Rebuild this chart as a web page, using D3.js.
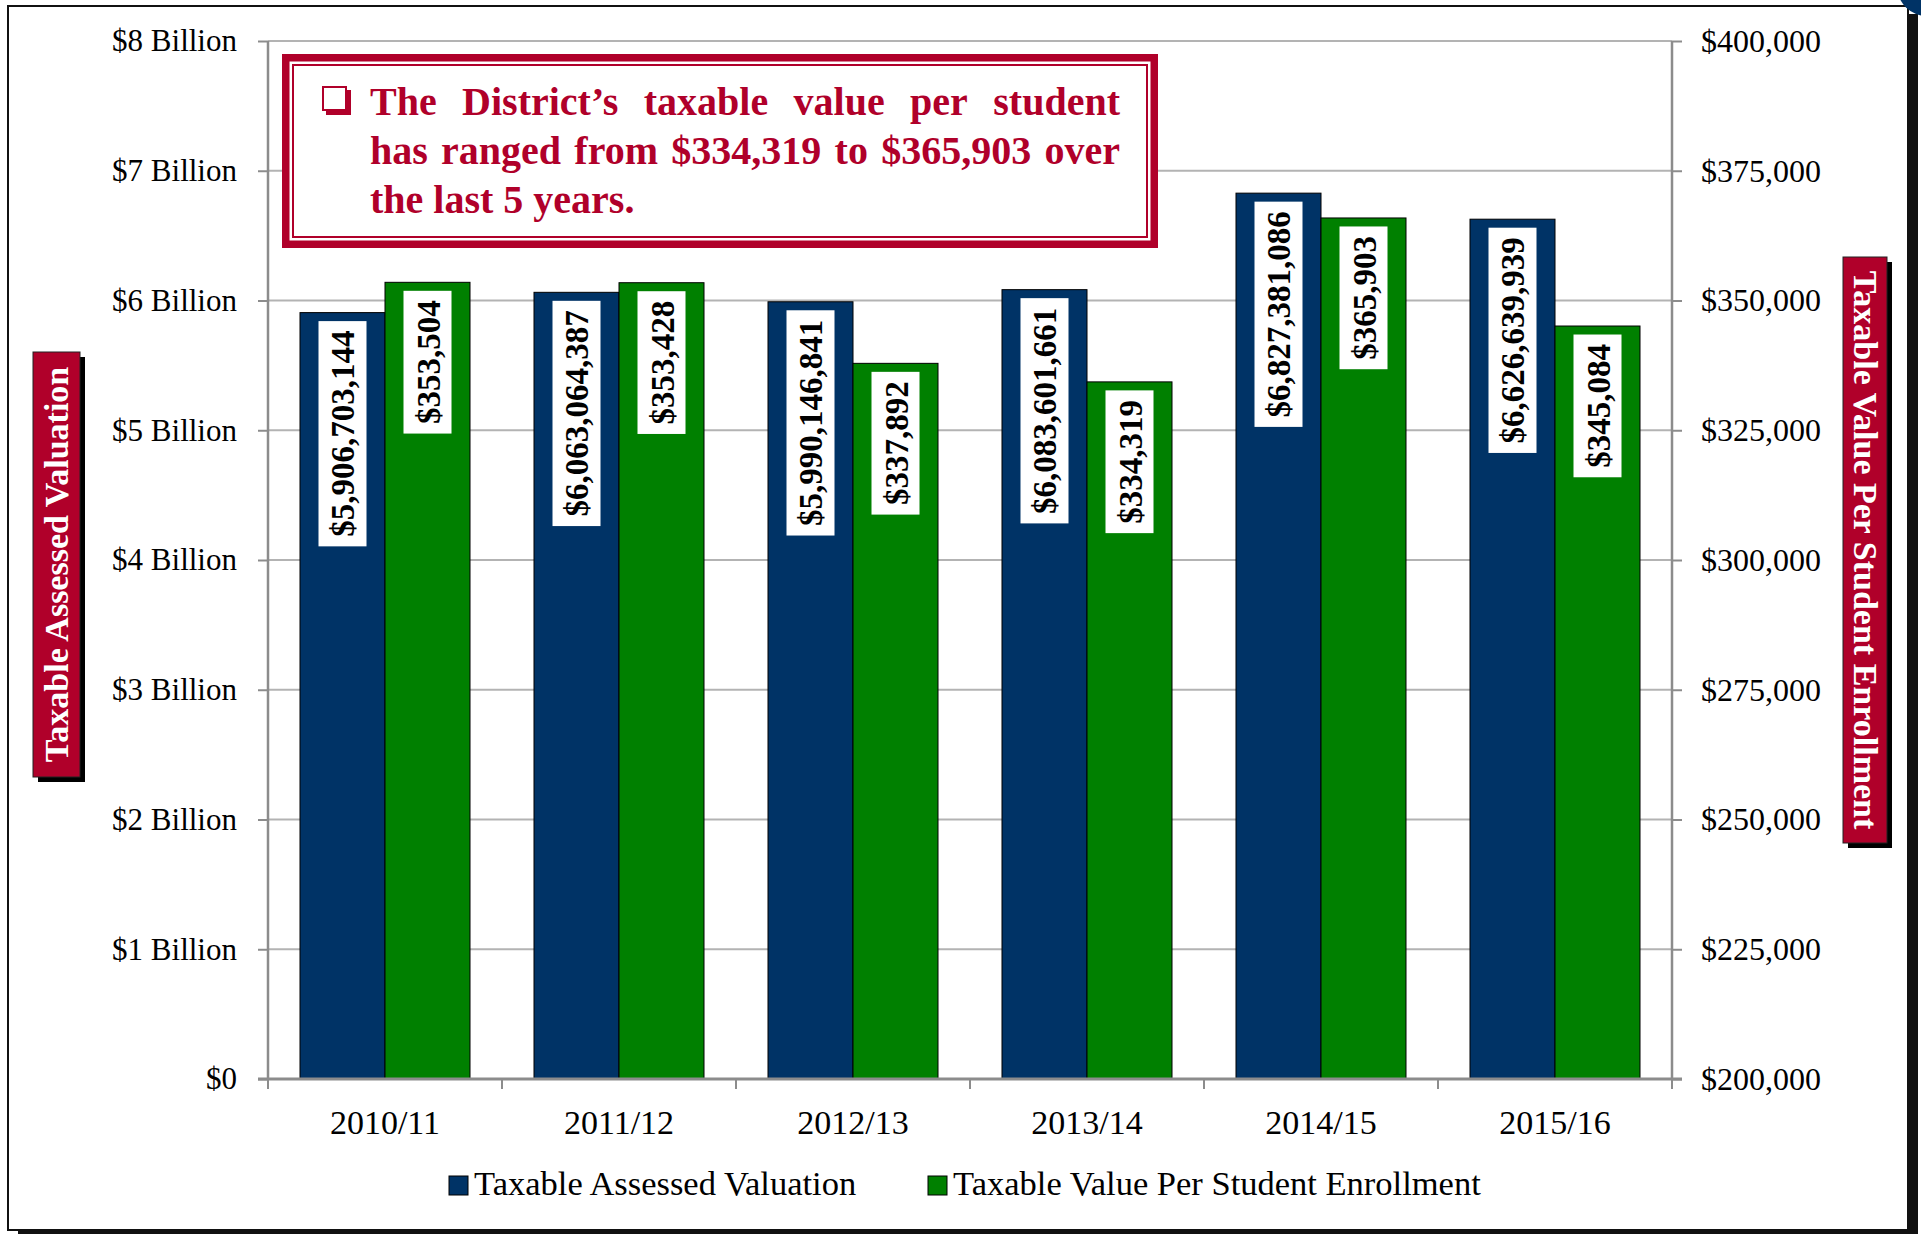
<!DOCTYPE html>
<html>
<head>
<meta charset="utf-8">
<script src="https://cdn.jsdelivr.net/npm/d3@7"></script>
<style>
  body { margin: 0; background: #fff; }
  svg { display: block; }
</style>
</head>
<body>
<script>
// DATA
const years = ['2010/11', '2011/12', '2012/13', '2013/14', '2014/15', '2015/16'];
const valuation = [5906703144, 6063064387, 5990146841, 6083601661, 6827381086, 6626639939];
const perStudent = [353504, 353428, 337892, 334319, 365903, 345084];
const seriesNames = ['Taxable Assessed Valuation', 'Taxable Value Per Student Enrollment'];
const leftTicks = [0, 1e9, 2e9, 3e9, 4e9, 5e9, 6e9, 7e9, 8e9];
const leftTickLabels = ['$0', '$1 Billion', '$2 Billion', '$3 Billion', '$4 Billion', '$5 Billion', '$6 Billion', '$7 Billion', '$8 Billion'];
const rightTicks = [200000, 225000, 250000, 275000, 300000, 325000, 350000, 375000, 400000];
const rightTickLabels = ['$200,000', '$225,000', '$250,000', '$275,000', '$300,000', '$325,000', '$350,000', '$375,000', '$400,000'];
const leftTitle = 'Taxable Assessed Valuation';
const rightTitle = 'Taxable Value Per Student Enrollment';
const noteLines = [
  'The District\u2019s taxable value per student',
  'has ranged from $334,319 to $365,903 over',
  'the last 5 years.'
];

// CONFIGURATION
const width = 1921;
const height = 1234;
const plot = { left: 268, right: 1672, top: 41, bottom: 1079 };
const colors = ['#003366', '#008000'];
const red = '#b0002a';
const serif = '"Liberation Serif", "Times New Roman", serif';

const x0 = d3.scaleBand()
  .domain(years)
  .range([plot.left, plot.right])
  .paddingInner(0.2735)
  .paddingOuter(0.2735 / 2);
const x1 = d3.scaleBand()
  .domain([0, 1])
  .range([0, x0.bandwidth()]);
const yLeft = d3.scaleLinear().domain([0, 8e9]).range([plot.bottom, plot.top]);
const yRight = d3.scaleLinear().domain([200000, 400000]).range([plot.bottom, plot.top]);

// SVG
const svg = d3.select('body')
  .append('svg')
  .attr('width', width)
  .attr('height', height)
  .style('font-family', serif);

// FRAME
svg.append('rect')
  .attr('x', 18).attr('y', 14)
  .attr('width', 1900).attr('height', 1220)
  .attr('fill', '#111');
svg.append('rect')
  .attr('x', 8).attr('y', 6)
  .attr('width', 1900).attr('height', 1224)
  .attr('fill', '#fff')
  .attr('stroke', '#111')
  .attr('stroke-width', 2);
svg.append('path')
  .attr('d', d3.arc()({ innerRadius: 0, outerRadius: 30, startAngle: Math.PI, endAngle: 1.5 * Math.PI }))
  .attr('transform', 'translate(1927,-14)')
  .attr('fill', '#003366');

// GRIDLINES
svg.append('g')
  .selectAll('line')
  .data(leftTicks.slice(1))
  .enter()
  .append('line')
  .attr('x1', plot.left).attr('x2', plot.right)
  .attr('y1', d => yLeft(d)).attr('y2', d => yLeft(d))
  .attr('stroke', '#b3b3b3')
  .attr('stroke-width', 2);

// AXES
const leftAxis = svg.append('g')
  .attr('transform', `translate(${plot.left},0)`)
  .call(d3.axisLeft(yLeft)
    .tickValues(leftTicks)
    .tickSize(10)
    .tickPadding(21)
    .tickFormat((d, i) => leftTickLabels[i]));
const rightAxis = svg.append('g')
  .attr('transform', `translate(${plot.right},0)`)
  .call(d3.axisRight(yRight)
    .tickValues(rightTicks)
    .tickSize(10)
    .tickPadding(19)
    .tickFormat((d, i) => rightTickLabels[i]));
[leftAxis, rightAxis].forEach(function(axis, i) {
  axis.select('.domain')
    .attr('stroke', '#8c8c8c')
    .attr('stroke-width', 2.5)
    .attr('d', `M0,${plot.top}V${plot.bottom}`);
  axis.selectAll('.tick line').attr('stroke', '#8c8c8c').attr('stroke-width', 2);
  axis.selectAll('.tick text')
    .attr('fill', '#000')
    .style('font-family', serif)
    .style('font-size', i === 0 ? '31px' : '32px');
});

// BARS
const groups = svg.append('g')
  .selectAll('g')
  .data(years)
  .enter()
  .append('g')
  .attr('transform', d => `translate(${x0(d)},0)`);

const barData = (d, i) => [
  { s: 0, y: yLeft(valuation[i]), label: d3.format('$,')(valuation[i]) },
  { s: 1, y: yRight(perStudent[i]), label: d3.format('$,')(perStudent[i]) }
];

groups.selectAll('rect.bar')
  .data(barData)
  .enter()
  .append('rect')
  .attr('class', 'bar')
  .attr('x', d => x1(d.s))
  .attr('y', d => d.y)
  .attr('width', x1.bandwidth())
  .attr('height', d => plot.bottom - d.y)
  .attr('fill', d => colors[d.s])
  .attr('stroke', '#000')
  .attr('stroke-width', 1);

// DATA LABELS
groups.selectAll('g.label')
  .data(barData)
  .enter()
  .append('g')
  .attr('class', 'label')
  .each(function(d) {
    const g = d3.select(this);
    const cx = x1(d.s) + x1.bandwidth() / 2;
    const text = g.append('text')
      .text(d.label)
      .attr('text-anchor', 'middle')
      .attr('dominant-baseline', 'central')
      .style('font-weight', 'bold')
      .style('font-size', '33px')
      .attr('fill', '#000');
    const len = text.node().getComputedTextLength();
    const boxTop = d.y + 8.5;
    const boxH = len + 19;
    g.insert('rect', 'text')
      .attr('x', cx - 24)
      .attr('y', boxTop)
      .attr('width', 48)
      .attr('height', boxH)
      .attr('fill', '#fff');
    text.attr('transform', `translate(${cx + 1},${boxTop + boxH / 2}) rotate(-90)`);
  });

// X AXIS
const bottomAxis = svg.append('g')
  .attr('transform', `translate(0,${plot.bottom})`)
  .call(d3.axisBottom(x0).tickSize(0).tickPadding(31));
bottomAxis.select('.domain')
  .attr('stroke', '#8c8c8c')
  .attr('stroke-width', 3)
  .attr('d', `M${plot.left - 10},0H${plot.right + 10}`);
bottomAxis.selectAll('.tick text')
  .attr('fill', '#000')
  .style('font-family', serif)
  .style('font-size', '34px');
bottomAxis.selectAll('line.sep')
  .data(d3.range(years.length + 1))
  .enter()
  .append('line')
  .attr('class', 'sep')
  .attr('x1', i => plot.left + i * x0.step())
  .attr('x2', i => plot.left + i * x0.step())
  .attr('y1', 0).attr('y2', 10)
  .attr('stroke', '#8c8c8c')
  .attr('stroke-width', 2);

// AXIS TITLES
function titleBox(x, y, w, h, label, angle) {
  svg.append('rect')
    .attr('x', x + 5).attr('y', y + 5)
    .attr('width', w).attr('height', h)
    .attr('fill', '#000');
  svg.append('rect')
    .attr('x', x).attr('y', y)
    .attr('width', w).attr('height', h)
    .attr('fill', red)
    .attr('stroke', '#222')
    .attr('stroke-width', 1);
  svg.append('text')
    .text(label)
    .attr('transform', `translate(${x + w / 2},${y + h / 2}) rotate(${angle})`)
    .attr('text-anchor', 'middle')
    .attr('dominant-baseline', 'central')
    .attr('fill', '#fff')
    .style('font-weight', 'bold')
    .style('font-size', '34px');
}
titleBox(33, 352, 47, 425, leftTitle, -90);
titleBox(1843, 257, 44, 586, rightTitle, 90);

// LEGEND
const legendX = [449, 928];
seriesNames.forEach(function(name, i) {
  svg.append('rect')
    .attr('x', legendX[i]).attr('y', 1176)
    .attr('width', 19).attr('height', 19)
    .attr('fill', colors[i])
    .attr('stroke', '#000')
    .attr('stroke-width', 1);
  svg.append('text')
    .text(name)
    .attr('x', legendX[i] + 25)
    .attr('y', 1195)
    .style('font-size', '34.5px')
    .attr('fill', '#000');
});

// NOTE BOX
const note = { x: 282, y: 54, w: 876, h: 194 };
svg.append('rect')
  .attr('x', note.x + 3.75).attr('y', note.y + 3.75)
  .attr('width', note.w - 7.5).attr('height', note.h - 7.5)
  .attr('fill', '#fff')
  .attr('stroke', red)
  .attr('stroke-width', 7.5);
svg.append('rect')
  .attr('x', note.x + 11).attr('y', note.y + 11)
  .attr('width', note.w - 22).attr('height', note.h - 22)
  .attr('fill', 'none')
  .attr('stroke', red)
  .attr('stroke-width', 2);

// checkbox bullet
svg.append('path')
  .attr('d', 'M326,90H351V115H326Z')
  .attr('fill', red);
svg.append('rect')
  .attr('x', 323).attr('y', 87)
  .attr('width', 23).attr('height', 23)
  .attr('fill', '#fff')
  .attr('stroke', red)
  .attr('stroke-width', 2);

const textLeft = 370;
const textRight = 1120;
const baselines = [115, 164, 213];
noteLines.forEach(function(line, li) {
  const words = line.split(' ');
  const texts = words.map(w => svg.append('text')
    .text(w)
    .attr('y', baselines[li])
    .attr('fill', red)
    .style('font-weight', 'bold')
    .style('font-size', '40px'));
  const widths = texts.map(t => t.node().getComputedTextLength());
  const total = d3.sum(widths);
  const justify = li < noteLines.length - 1;
  const gap = justify ? (textRight - textLeft - total) / (words.length - 1) : 10;
  let x = textLeft;
  texts.forEach(function(t, i) {
    t.attr('x', x);
    x += widths[i] + gap;
  });
});
</script>
</body>
</html>
